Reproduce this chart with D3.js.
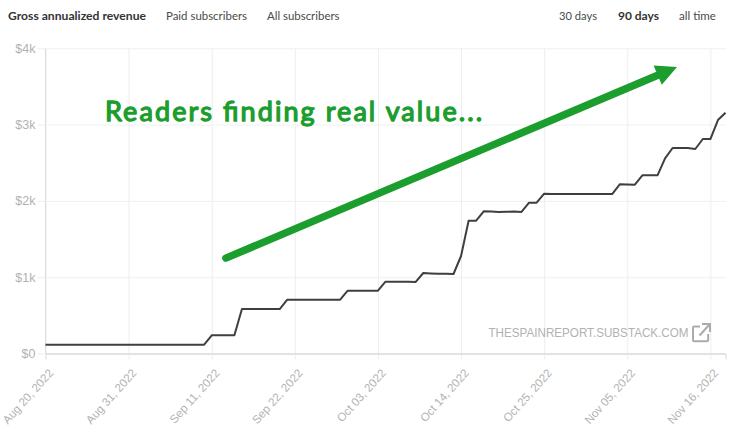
<!DOCTYPE html>
<html><head><meta charset="utf-8">
<script src="https://cdn.jsdelivr.net/npm/d3@7"></script>
<style>html,body{margin:0;padding:0;background:#fff}svg{display:block}</style>
</head><body><svg id="c" width="738" height="432"></svg>
<script>
const startDate = "2022-08-20";
const tickDates = ["2022-08-20","2022-08-31","2022-09-11","2022-09-22","2022-10-03","2022-10-14","2022-10-25","2022-11-05","2022-11-16"];
const yTicks = [0,1000,2000,3000,4000];
const revenue = [
115,115,115,115,115,115,115,115,115,115,115,
115,115,115,115,115,115,115,115,115,115,115,
238,238,238,238,
583,583,583,583,583,583,
705,705,705,705,705,705,705,705,
823,823,823,823,823,
942,942,942,940,938,
1055,1050,1046,1045,1042,
1278,1740,1740,
1864,1860,1856,1858,1860,1855,
1976,1976,
2094,2092,2092,2090,2090,2092,2092,2092,2092,2090,
2217,2215,2212,
2335,2335,2335,
2558,2693,2693,2693,
2680,2811,2811,3060,3156];
const tabsLeft = [["Gross annualized revenue",true],["Paid subscribers",false],["All subscribers",false]];
const tabsRight = [["30 days",false],["90 days",true],["all time",false]];
const annotationText = "Readers finding real value...";
const arrowFrom = {day:23.9, value:1250};
const arrowTo = {day:83.6, value:3755};
const watermark = "THESPAINREPORT.SUBSTACK.COM";

const svg = d3.select("#c");
const parse = d3.utcParse("%Y-%m-%d");
const d0 = parse(startDate);
const series = revenue.map((v,i)=>({date:d3.utcDay.offset(d0,i),value:v}));
const x = d3.scaleUtc().domain([d0,d3.utcDay.offset(d0,90)]).range([45.5,725.5]);
const y = d3.scaleLinear().domain([0,4000]).range([353.5,48.3]);
const GREEN="#1b9e2d";

// tabs
const tabFont = "Lato,'Noto Sans',sans-serif";
const tabXL=[8,166,267], tabXR=[559,618,679];
const tabLenL=[138,81,72.5], tabLenR=[38,41,37];
const addTab=(t,xp,len)=>svg.append("text").attr("x",xp).attr("y",20).text(t[0])
  .attr("font-family",tabFont).attr("font-size",12).attr("font-weight",t[1]?700:400).attr("fill",t[1]?"#333":"#4a4a4a")
  .attr("textLength",len).attr("lengthAdjust","spacingAndGlyphs");
tabsLeft.forEach((t,i)=>addTab(t,tabXL[i],tabLenL[i]));
tabsRight.forEach((t,i)=>addTab(t,tabXR[i],tabLenR[i]));

// grid
const gx = svg.append("g").attr("transform","translate(0,353.5)")
  .call(d3.axisBottom(x).tickValues(tickDates.map(parse)).tickSize(6).tickFormat(d3.utcFormat("%b %d, %Y")));
gx.select(".domain").attr("stroke","#d9d9d9");
gx.selectAll(".tick line").clone().attr("y1",0).attr("y2",-305.2).attr("stroke","#f0f0f0");
gx.selectAll(".tick line").attr("stroke","#eeeeee");
gx.selectAll("text").attr("font-family","'Liberation Sans',Arial,sans-serif").attr("font-size",11.6).attr("fill","#b2b2b2")
  .attr("text-anchor","end").attr("dy",0).attr("y",0).attr("x",0)
  .attr("transform","translate(8,20) rotate(-48)");

const gy = svg.append("g").attr("transform","translate(45.5,0)")
  .call(d3.axisLeft(y).tickValues(yTicks).tickSize(8).tickPadding(2).tickFormat(d=>d===0?"$0":`$${d/1000}k`));
gy.select(".domain").attr("stroke","#dcdcdc").attr("d","M0,48.3V353.5");
gy.selectAll(".tick line").attr("stroke","#eeeeee");
gy.selectAll(".tick line").clone().attr("x1",0).attr("x2",680.5).attr("stroke",d=>d===0?"#d9d9d9":"#f0f0f0");
gy.selectAll("text").attr("font-family","'Liberation Sans',Arial,sans-serif").attr("font-size",12.5).attr("fill","#b2b2b2");

// line
svg.append("path").datum(series).attr("fill","none").attr("stroke","#3f3f3f").attr("stroke-width",2)
  .attr("stroke-linejoin","round")
  .attr("d",d3.line().x(d=>x(d.date)).y(d=>y(d.value)));

// watermark
svg.append("text").attr("x",488.5).attr("y",336.5).text(watermark)
  .attr("font-family","'Liberation Sans',Arial,sans-serif").attr("font-size",12.2).attr("fill","#b2b2b2")
  .attr("textLength",200).attr("lengthAdjust","spacingAndGlyphs");
const icon = svg.append("g").attr("transform","translate(692,323)").attr("fill","none").attr("stroke","#ababab").attr("stroke-width",2);
icon.append("path").attr("d","M8,3.5H2.2Q1,3.5 1,4.7V17Q1,18.2 2.2,18.2H15Q16.2,18.2 16.2,17V11");
icon.append("path").attr("d","M7.5,12.5L17.5,1.5M10,1H18V9");

// annotation
const ax = p=>x(d3.utcHour.offset(d0,p.day*24)), ay = p=>y(p.value);
const x1=ax(arrowFrom),y1=ay(arrowFrom),x2=ax(arrowTo),y2=ay(arrowTo);
const ang=Math.atan2(y2-y1,x2-x1);
const back=21, spread=10.5;
const bx=x2-back*Math.cos(ang),by=y2-back*Math.sin(ang);
svg.append("line").attr("x1",x1).attr("y1",y1).attr("x2",bx).attr("y2",by)
  .attr("stroke",GREEN).attr("stroke-width",7.5).attr("stroke-linecap","round");
svg.append("polygon").attr("fill",GREEN).attr("points",[
  [x2,y2],
  [bx-spread*Math.sin(ang),by+spread*Math.cos(ang)],
  [bx+spread*Math.sin(ang),by-spread*Math.cos(ang)]].map(p=>p.join(",")).join(" "));
svg.append("text").attr("x",105).attr("y",121).text(annotationText)
  .attr("font-family","'Comic Sans MS',Lato,'Noto Sans',sans-serif").attr("font-size",27).attr("font-weight",400)
  .attr("fill",GREEN).attr("stroke",GREEN).attr("stroke-width",1.3).attr("stroke-linejoin","round")
  .attr("textLength",377).attr("lengthAdjust","spacing");
</script></body></html>
